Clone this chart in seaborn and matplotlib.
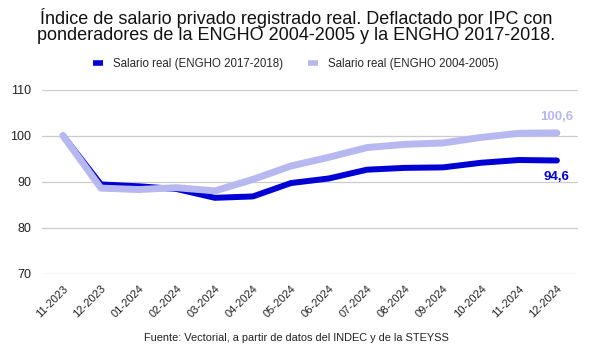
import matplotlib.pyplot as plt
import pandas as pd
import seaborn as sns

months = ["11-2023", "12-2023", "01-2024", "02-2024", "03-2024", "04-2024", "05-2024",
          "06-2024", "07-2024", "08-2024", "09-2024", "10-2024", "11-2024", "12-2024"]
real_2017 = [100.0, 89.4, 89.0, 88.4, 86.5, 86.8, 89.7, 90.7, 92.6, 93.0, 93.1, 94.1, 94.7, 94.6]
real_2004 = [100.0, 88.6, 88.3, 88.7, 88.0, 90.5, 93.4, 95.3, 97.4, 98.1, 98.4, 99.6, 100.5, 100.6]

label_2017 = "Salario real (ENGHO 2017-2018)"
label_2004 = "Salario real (ENGHO 2004-2005)"
dark = "#0000d4"
light = "#b8b8f0"

sns.set_theme(style="whitegrid")
plt.rcParams["font.family"] = ["Liberation Sans", "DejaVu Sans"]

df = pd.DataFrame({"mes": months * 2,
                   "valor": real_2017 + real_2004,
                   "serie": [label_2017] * len(months) + [label_2004] * len(months)})
df["x"] = list(range(len(months))) * 2

fig = plt.figure(figsize=(5.92, 3.58), dpi=100)
ax = fig.add_axes([0.071, 0.235, 0.905, 0.515])

sns.lineplot(data=df[df["serie"] == label_2017], x="x", y="valor", color=dark,
             lw=4.3, ax=ax, label=label_2017, solid_joinstyle="round")
sns.lineplot(data=df[df["serie"] == label_2004], x="x", y="valor", color=light,
             lw=5.0, ax=ax, label=label_2004, solid_joinstyle="round")

ax.set_ylim(70, 110)
ax.set_yticks([70, 80, 90, 100, 110])
ax.set_xlim(-0.55, len(months) - 0.45)
ax.set_xticks(range(len(months)))
ax.set_xticklabels(months, rotation=45, ha="right", rotation_mode="anchor", fontsize=8, color="#222222")
ax.tick_params(axis="y", labelsize=9, colors="#222222", pad=2)
ax.tick_params(axis="x", pad=1)
ax.set_xlabel("")
ax.set_ylabel("")
ax.grid(axis="x", visible=False)
ax.grid(axis="y", color="#cccccc", lw=0.9)
for s in ax.spines.values():
    s.set_visible(False)

ax.annotate("100,6", (len(months) - 1, real_2004[-1]), xytext=(0, 9), textcoords="offset points",
            ha="center", color=light, fontsize=9.5, fontweight="bold")
ax.annotate("94,6", (len(months) - 1, real_2017[-1]), xytext=(0, -14), textcoords="offset points",
            ha="center", color=dark, fontsize=9.5, fontweight="bold")

handles, labels = ax.get_legend_handles_labels()
leg = fig.legend(handles, labels, loc="center",
                 bbox_to_anchor=(0.5, 0.82), ncol=2, frameon=False, fontsize=8.3,
                 handlelength=0.8, columnspacing=2.2, handletextpad=0.9)
ax.get_legend().remove()
for h in leg.legend_handles:
    h.set_linewidth(4)
    h.set_solid_capstyle("butt")

fig.text(0.5, 0.978, "Índice de salario privado registrado real. Deflactado por IPC con\n"
         "ponderadores de la ENGHO 2004-2005 y la ENGHO 2017-2018.",
         ha="center", va="top", fontsize=13, linespacing=0.95, color="#111111")
fig.text(0.5, 0.055, "Fuente: Vectorial, a partir de datos del INDEC y de la STEYSS",
         ha="center", va="center", fontsize=7.9, color="#222222")

fig.savefig("out.png", dpi=100)
